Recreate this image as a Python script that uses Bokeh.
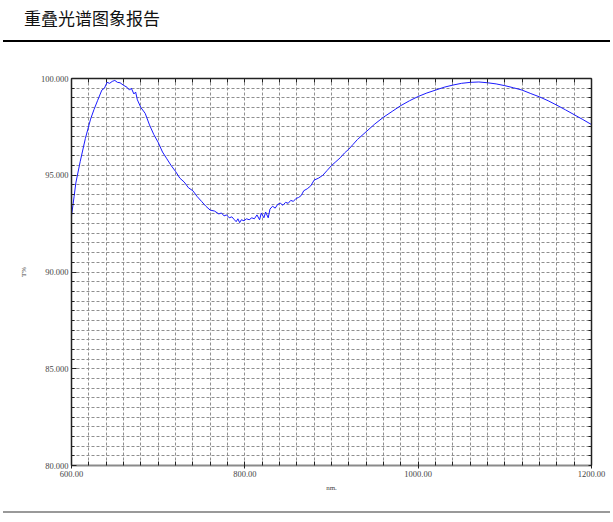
from bokeh.plotting import figure
from bokeh.models import (LinearAxis, FixedTicker, NumeralTickFormatter, Div,
                          ColumnDataSource, Range1d, CustomJSTickFormatter)
from bokeh.layouts import column
from bokeh.embed import file_html
from bokeh.resources import INLINE

# ---------------- data ----------------
wavelength_nm = [
    600, 603, 605, 610, 616, 622, 626, 630, 635, 638, 641, 644, 647, 650, 653, 656,
    660, 664, 667, 669, 672, 674, 676, 680, 685, 690, 695, 700, 705, 710, 715, 720,
    725, 730, 735, 740, 745, 750, 755, 760, 765, 770, 773, 776, 779, 782, 785, 788,
    790, 792, 794, 796, 799, 802, 805, 808, 811, 814, 817, 819, 822, 824, 827, 829,
    832, 835, 838, 841, 844, 847, 850, 853, 856, 859, 862, 865, 868, 872, 876, 880,
    885, 890, 895, 900, 905, 910, 915, 920, 925, 930, 940, 950, 960, 970, 980, 990,
    1000, 1010, 1020, 1030, 1040, 1050, 1060, 1070, 1080, 1090, 1100, 1110, 1120,
    1130, 1140, 1150, 1160, 1170, 1180, 1190, 1200,
]
transmittance = [
    92.9, 93.9, 94.6, 95.7, 96.9, 97.9, 98.4, 98.85, 99.4, 99.5, 99.8, 99.75, 99.85, 99.9, 99.8, 99.78,
    99.65, 99.55, 99.4, 99.5, 99.2, 99.3, 98.9, 98.5, 98.2, 97.6, 97.1, 96.7, 96.2, 95.85, 95.5, 95.2,
    94.85, 94.65, 94.35, 94.2, 93.9, 93.65, 93.4, 93.2, 93.15, 93.0, 93.05, 92.9, 92.95, 92.8, 92.85, 92.7,
    92.6, 92.75, 92.55, 92.7, 92.65, 92.75, 92.7, 92.8, 92.75, 92.95, 92.7, 93.05, 92.8, 93.1, 92.8, 93.25,
    93.4, 93.3, 93.5, 93.55, 93.45, 93.6, 93.55, 93.7, 93.65, 93.8, 93.85, 93.95, 94.2, 94.3, 94.45, 94.75,
    94.85, 95.0, 95.25, 95.5, 95.7, 95.9, 96.15, 96.35, 96.6, 96.85, 97.25, 97.65, 98.0, 98.3, 98.6, 98.85,
    99.07, 99.25, 99.4, 99.55, 99.66, 99.75, 99.8, 99.82, 99.78, 99.72, 99.63, 99.52, 99.4,
    99.22, 99.05, 98.85, 98.62, 98.38, 98.13, 97.88, 97.62,
]

x_major_ticks = [600, 800, 1000, 1200]
y_major_ticks = [80, 85, 90, 95, 100]
x_minor_ticks = list(range(600, 1201, 20))
y_minor_ticks = [80 + 0.5 * i for i in range(41)]

title_text = "重叠光谱图象报告"
x_label = "nm."
y_label = "T%"

# ---------------- figure ----------------
LABEL_FONT = "Liberation Serif"
AX = "#222222"

p = figure(width=610, height=465, x_range=Range1d(600, 1200), y_range=Range1d(80, 100),
           output_backend="svg", toolbar_location=None,
           min_border_left=71, min_border_right=19, min_border_top=35, min_border_bottom=43)
p.outline_line_color = None
p.background_fill_color = "white"
p.border_fill_color = "white"

src = ColumnDataSource(dict(x=wavelength_nm, y=transmittance))
p.line("x", "y", source=src, line_color="#1a1aff", line_width=1)

# grids
p.xgrid.ticker = FixedTicker(ticks=x_minor_ticks)
p.ygrid.ticker = FixedTicker(ticks=y_minor_ticks)
for g in (p.xgrid, p.ygrid):
    g.grid_line_color = "#8f8f8f"
    g.grid_line_dash = "3 2"
    g.grid_line_width = 1

# bottom axis
xa = p.xaxis[0]
xa.ticker = FixedTicker(ticks=x_major_ticks, minor_ticks=x_minor_ticks)
xa.formatter = NumeralTickFormatter(format="0.00")
xa.axis_line_color = "#8a8a8a"
xa.axis_line_width = 2
xa.major_tick_in = 3
xa.major_tick_out = 3
xa.major_tick_line_color = AX
xa.minor_tick_in = 4
xa.minor_tick_out = 0
xa.minor_tick_line_color = AX
xa.major_label_text_font = LABEL_FONT
xa.major_label_text_font_size = "8.5px"
xa.major_label_text_color = "#444444"
xa.major_label_standoff = 2
xa.axis_label = x_label
xa.axis_label_text_font = LABEL_FONT
xa.axis_label_text_font_size = "7px"
xa.axis_label_text_font_style = "normal"
xa.axis_label_text_color = "#444444"
xa.axis_label_standoff = 4

# left axis
ya = p.yaxis[0]
ya.ticker = FixedTicker(ticks=y_major_ticks, minor_ticks=y_minor_ticks)
ya.formatter = NumeralTickFormatter(format="0.000")
ya.axis_line_color = AX
ya.axis_line_width = 1.5
ya.major_tick_in = 5
ya.major_tick_out = 0
ya.major_tick_line_color = AX
ya.minor_tick_in = 3
ya.minor_tick_out = 0
ya.minor_tick_line_color = AX
ya.major_label_text_font = LABEL_FONT
ya.major_label_text_font_size = "8.5px"
ya.major_label_text_color = "#444444"
ya.major_label_standoff = 3
ya.axis_label = y_label
ya.axis_label_text_font = LABEL_FONT
ya.axis_label_text_font_size = "7px"
ya.axis_label_text_font_style = "normal"
ya.axis_label_text_color = "#444444"
ya.axis_label_standoff = 10

blank = CustomJSTickFormatter(code="return '';")

# top axis
top = LinearAxis(ticker=FixedTicker(ticks=x_minor_ticks), formatter=blank,
                 axis_line_color=AX, axis_line_width=1.5,
                 major_tick_in=4, major_tick_out=0, major_tick_line_color=AX,
                 minor_tick_line_color=None, major_label_text_font_size="0px")
p.add_layout(top, "above")

# right axis
right = LinearAxis(ticker=FixedTicker(ticks=y_minor_ticks), formatter=blank,
                   axis_line_color=AX, axis_line_width=1.5,
                   major_tick_in=3, major_tick_out=0, major_tick_line_color=AX,
                   minor_tick_line_color=None, major_label_text_font_size="0px")
p.add_layout(right, "right")

# ---------------- header / footer ----------------
title_div = Div(
    text=('<div style="position:relative;height:42px;width:607px;margin-left:3px;'
          'border-bottom:2px solid #000;">'
          '<span style="position:absolute;left:21px;top:9px;font-size:17px;line-height:17px;'
          "font-family:'Noto Sans CJK SC';color:#111;white-space:nowrap;\">"
          + title_text + '</span></div>'),
    width=610, height=43, margin=0)

footer_div = Div(
    text=('<div style="position:relative;top:-7px;height:1px;width:607px;margin-left:3px;'
          'border-bottom:2px solid #999;"></div>'),
    width=610, height=3, margin=0)

layout = column(title_div, p, footer_div, spacing=0)

open("out.html", "w").write(file_html(layout, INLINE))
